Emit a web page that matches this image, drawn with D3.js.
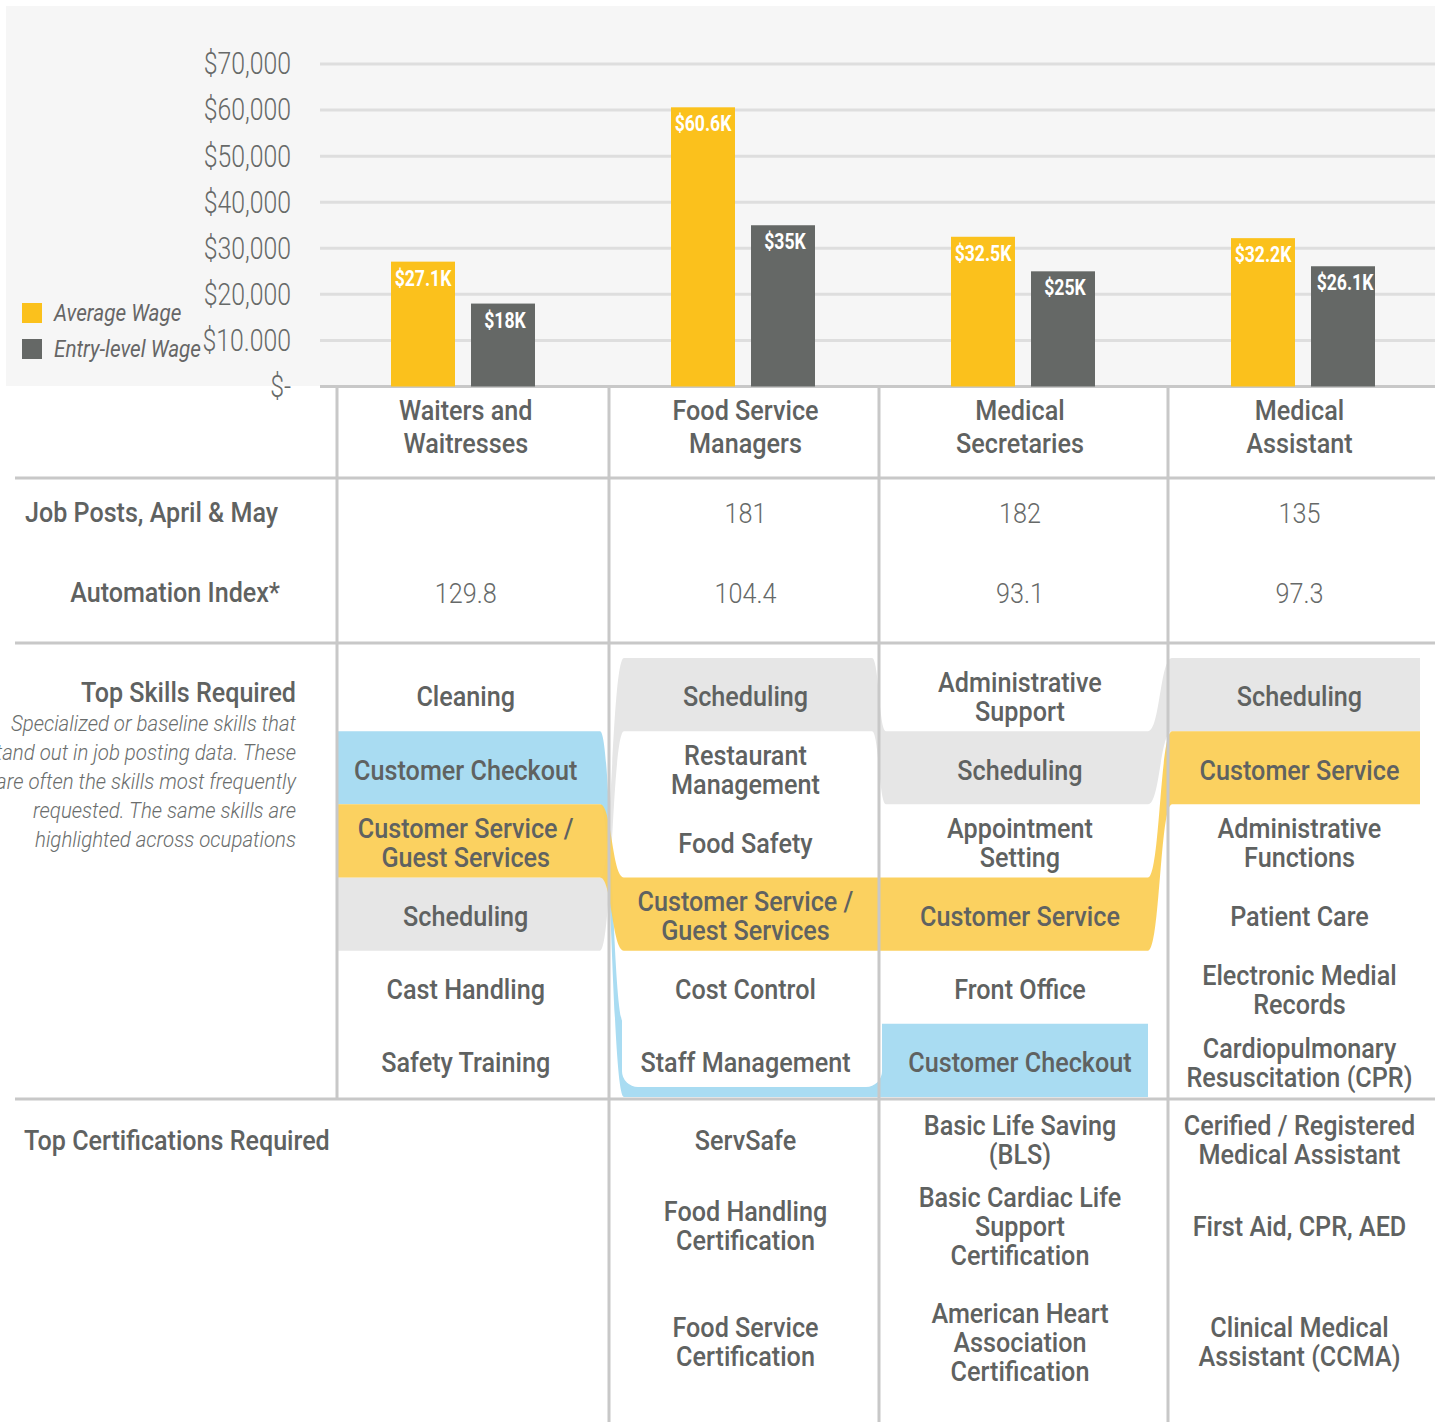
<!DOCTYPE html>
<meta charset="utf-8">
<style>
body { margin: 0; background: #fff; }
svg text { font-family: Roboto, "Liberation Sans", sans-serif; fill: #5f6261; }
.tick text { font-size: 31px; font-weight: 300; fill: #666968; }
.bar-label { font-size: 22px; font-weight: bold; fill: #fff !important; text-anchor: middle; }
.legend text { font-size: 23px; font-style: italic; fill: #666 !important; }
.head { font-size: 28px; font-weight: 500; text-anchor: middle; }
.row-label { font-size: 27px; font-weight: 500; }
.value { font-size: 28px; font-weight: 300; text-anchor: middle; fill: #666968 !important; }
.skill { font-size: 28px; font-weight: 500; text-anchor: middle; }
.note { font-size: 22px; font-style: italic; font-weight: 300; text-anchor: end; fill: #6a6d6c !important; }
.rule { stroke: #c8c8c8; stroke-width: 3; }
</style>
<body>
<script src="https://d3js.org/d3.v7.min.js"></script>
<script>

var width = 1435,
    height = 1422;

var occupations = ["Waiters and|Waitresses", "Food Service|Managers", "Medical|Secretaries", "Medical|Assistant"];
var averageWage = [27100, 60600, 32500, 32200];
var entryWage = [18000, 35000, 25000, 26100];
var wageTicks = [0, 10000, 20000, 30000, 40000, 50000, 60000, 70000];
var wageTickLabels = ["$-", "$10.000", "$20,000", "$30,000", "$40,000", "$50,000", "$60,000", "$70,000"];
var seriesNames = ["Average Wage", "Entry-level Wage"];
var jobPosts = [null, 181, 182, 135];
var automationIndex = [129.8, 104.4, 93.1, 97.3];

var topSkills = [
  ["Cleaning", "Customer Checkout", "Customer Service /|Guest Services", "Scheduling", "Cast Handling", "Safety Training"],
  ["Scheduling", "Restaurant|Management", "Food Safety", "Customer Service /|Guest Services", "Cost Control", "Staff Management"],
  ["Administrative|Support", "Scheduling", "Appointment|Setting", "Customer Service", "Front Office", "Customer Checkout"],
  ["Scheduling", "Customer Service", "Administrative|Functions", "Patient Care", "Electronic Medial|Records", "Cardiopulmonary|Resuscitation (CPR)"]
];

// row of each shared skill in every column (Customer Checkout runs underneath column 2)
var sharedSkills = ["Scheduling", "Customer Checkout", "Customer Service"];
var sharedRows = [[3, 0, 1, 0], [1, 5, 5, null], [2, 3, 3, 1]];
var sharedColors = ["#e6e6e6", "#a9dcf2", "#fbcf57"];

var certifications = [
  [],
  ["ServSafe", "Food Handling|Certification", "Food Service|Certification"],
  ["Basic Life Saving|(BLS)", "Basic Cardiac Life|Support|Certification", "American Heart|Association|Certification"],
  ["Cerified / Registered|Medical Assistant", "First Aid, CPR, AED", "Clinical Medical|Assistant (CCMA)"]
];

var colors = ["#fbc11c", "#656866"];

var svg = d3.select("body").append("svg")
    .attr("width", width)
    .attr("height", height);

// ---- wage chart ----
svg.append("rect")
    .attr("x", 6).attr("y", 6)
    .attr("width", width - 6).attr("height", 380)
    .attr("fill", "#f6f6f6");

var x = d3.scaleBand()
    .domain(occupations)
    .range([323, 1443]);

var xs = d3.scaleBand()
    .domain(seriesNames)
    .range([-72, 72])
    .paddingInner(0.2);

var y = d3.scaleLinear()
    .domain([0, 70000])
    .range([386.5, 64]);

svg.append("g").selectAll("line")
    .data(wageTicks)
  .enter().append("line")
    .attr("x1", 320).attr("x2", width)
    .attr("y1", function(d) { return y(d); })
    .attr("y2", function(d) { return y(d); })
    .attr("stroke", function(d) { return d ? "#dedede" : "#c8c8c8"; })
    .attr("stroke-width", 3);

var axis = svg.append("g")
    .attr("transform", "translate(320,0)")
    .call(d3.axisLeft(y)
      .tickValues(wageTicks)
      .tickFormat(function(d, i) { return wageTickLabels[i]; })
      .tickSize(0)
      .tickPadding(29));
axis.select(".domain").remove();
axis.selectAll("text").attr("font-family", null).attr("font-size", null).attr("data-k", 0.8);

var wages = occupations.map(function(o, i) {
  return { occ: o, values: [averageWage[i], entryWage[i]] };
});

var group = svg.append("g").selectAll("g")
    .data(wages)
  .enter().append("g")
    .attr("transform", function(d) { return "translate(" + (x(d.occ) + x.bandwidth() / 2) + ",0)"; });

var bar = group.selectAll("g")
    .data(function(d) { return d.values.map(function(v, j) { return { key: seriesNames[j], value: v, j: j }; }); })
  .enter().append("g");

bar.append("rect")
    .attr("x", function(d) { return xs(d.key); })
    .attr("y", function(d) { return y(d.value); })
    .attr("width", xs.bandwidth())
    .attr("height", function(d) { return y(0) - y(d.value); })
    .attr("fill", function(d) { return colors[d.j]; });

bar.append("text")
    .attr("class", "bar-label")
    .attr("x", function(d) { return xs(d.key) + xs.bandwidth() / 2 + d.j * 2; })
    .attr("y", function(d) { return y(d.value) + 24; })
    .attr("data-k", 0.8)
    .text(function(d) { return "$" + (d.value / 1000) + "K"; });

var legend = svg.append("g").attr("class", "legend")
    .selectAll("g")
    .data(seriesNames)
  .enter().append("g")
    .attr("transform", function(d, i) { return "translate(22," + (303 + i * 36) + ")"; });

legend.append("rect")
    .attr("width", 20).attr("height", 20)
    .attr("fill", function(d, i) { return colors[i]; });

legend.append("text")
    .attr("x", 32).attr("y", 18)
    .text(function(d) { return d; });

// ---- table ----
var dividers = [337, 609, 879, 1168];
var lanes = [[337, 600], [624, 872], [886, 1148], [1172, 1420]];
var colCenter = occupations.map(function(o, i) {
  return ((x(o) + x.bandwidth() / 2) + (lanes[i][0] + lanes[i][1]) / 2) / 2;
});

function multiline(sel, text, cx, cy, lh, k) {
  var lines = text.split("|");
  var t = sel.append("text")
      .attr("x", cx)
      .attr("y", cy);
  if (k) t.attr("data-k", k);
  lines.forEach(function(l, j) {
    t.append("tspan")
        .attr("x", cx)
        .attr("y", cy + (j - (lines.length - 1) / 2) * lh)
        .attr("dy", "0.35em")
        .text(l);
  });
}

var heads = svg.append("g").attr("class", "head");
occupations.forEach(function(o, i) { multiline(heads, o, colCenter[i], 427, 33); });

var labels = svg.append("g").attr("class", "row-label");
labels.append("text").attr("x", 25).attr("y", 513).attr("dy", "0.35em").attr("data-k", 0.93).text("Job Posts, April & May");
labels.append("text").attr("x", 280).attr("y", 593).attr("dy", "0.35em").attr("data-k", 0.93).attr("text-anchor", "end").text("Automation Index*");
labels.append("text").attr("x", 296).attr("y", 693).attr("dy", "0.35em").attr("data-k", 0.93).attr("text-anchor", "end").text("Top Skills Required");
labels.append("text").attr("x", 24).attr("y", 1141).attr("dy", "0.35em").attr("data-k", 0.93).text("Top Certifications Required");

var note = ["Specialized or baseline skills that", "stand out in job posting data. These",
  "are often the skills most frequently", "requested. The same skills are", "highlighted across ocupations"];
svg.append("g").selectAll("text")
    .data(note)
  .enter().append("text")
    .attr("class", "note")
    .attr("x", 296)
    .attr("y", function(d, i) { return 723 + i * 29; })
    .attr("dy", "0.35em")
    .attr("data-k", 0.93)
    .text(function(d) { return d; });

svg.append("g").selectAll("text")
    .data(jobPosts)
  .enter().append("text")
    .attr("class", "value")
    .attr("x", function(d, i) { return colCenter[i]; })
    .attr("y", 513).attr("dy", "0.35em")
    .text(function(d) { return d == null ? "" : d; });

svg.append("g").selectAll("text")
    .data(automationIndex)
  .enter().append("text")
    .attr("class", "value")
    .attr("x", function(d, i) { return colCenter[i]; })
    .attr("y", 593).attr("dy", "0.35em")
    .text(function(d) { return d.toFixed(1); });

// skill flows
var slot = d3.scaleBand().domain(d3.range(6)).range([658, 1097]);

function flowPath(rows) {
  var cols = [];
  rows.forEach(function(r, i) { if (r != null) cols.push({ x0: lanes[i][0], x1: lanes[i][1], t: slot(r), b: slot(r) + slot.bandwidth() }); });
  var p = d3.path();
  p.moveTo(cols[0].x0, cols[0].t);
  cols.forEach(function(c, i) {
    if (i > 0) {
      var m = (cols[i - 1].x1 + c.x0) / 2;
      p.bezierCurveTo(m, cols[i - 1].t, m, c.t, c.x0, c.t);
    }
    p.lineTo(c.x1, c.t);
  });
  for (var i = cols.length - 1; i >= 0; i--) {
    var c = cols[i];
    p.lineTo(c.x1, c.b);
    p.lineTo(c.x0, c.b);
    if (i > 0) {
      var m = (cols[i - 1].x1 + c.x0) / 2;
      p.bezierCurveTo(m, c.b, m, cols[i - 1].b, cols[i - 1].x1, cols[i - 1].b);
    }
  }
  p.closePath();
  return p.toString();
}

var flows = svg.append("g");

flows.append("path")
    .attr("d", flowPath(sharedRows[1]))
    .attr("fill", sharedColors[1]);

// white card in column 2 that the checkout flow passes under
flows.append("rect")
    .attr("x", lanes[1][0] - 2).attr("y", slot(1))
    .attr("width", lanes[2][0] - lanes[1][0] - 2)
    .attr("height", slot(5) + slot.bandwidth() - 10 - slot(1))
    .attr("rx", 16)
    .attr("fill", "#fff");

flows.append("path")
    .attr("d", flowPath(sharedRows[0]))
    .attr("fill", sharedColors[0]);

flows.append("path")
    .attr("d", flowPath(sharedRows[2]))
    .attr("fill", sharedColors[2])
    .attr("fill-opacity", 0.95);

var skillText = svg.append("g").attr("class", "skill");
topSkills.forEach(function(list, i) {
  list.forEach(function(s, r) {
    multiline(skillText, s, colCenter[i], slot(r) + slot.bandwidth() / 2 + 2, 29);
  });
});

var certRows = [1140, 1226, 1342];
certifications.forEach(function(list, i) {
  list.forEach(function(s, r) {
    multiline(skillText, s, colCenter[i], certRows[r], 29);
  });
});

// rules
var rules = svg.append("g").attr("class", "rule");
[478, 643, 1099].forEach(function(v) {
  rules.append("line").attr("x1", 15).attr("x2", width).attr("y1", v).attr("y2", v);
});
dividers.forEach(function(v, i) {
  rules.append("line").attr("x1", v).attr("x2", v)
      .attr("y1", 387).attr("y2", i === 0 ? 1099 : height);
});

// condensed type: squeeze every label horizontally around its anchor
svg.selectAll("text").each(function() {
  var t = d3.select(this),
      ax = +t.attr("x") || 0,
      k = +t.attr("data-k") || 0.9;
  t.attr("transform", "translate(" + ax + ",0) scale(" + k + ",1) translate(" + (-ax) + ",0)");
});

</script>
